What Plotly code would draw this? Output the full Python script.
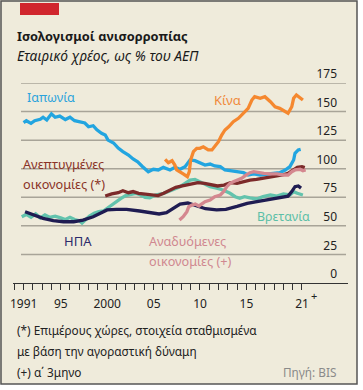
import plotly.graph_objects as go

# ---------------- data ----------------
japan_t = [1991.2, 1991.5, 1992.0, 1992.4, 1993.0, 1993.3, 1993.7, 1994.2, 1994.6, 1995.1, 1995.7,
           1996.2, 1996.7, 1997.3, 1997.8, 1998.2, 1998.7, 1999.1, 1999.6, 2000.0, 2000.3, 2000.9,
           2001.4, 2001.9, 2002.5, 2003.0, 2003.5, 2004.0, 2004.3, 2004.64, 2005.18, 2005.72,
           2006.26, 2006.98, 2007.52, 2008.06, 2008.6, 2009.14, 2009.67, 2010.2, 2010.75, 2011.3,
           2011.8, 2012.4, 2012.9, 2013.45, 2014.2, 2014.9, 2015.4, 2016.0, 2016.7, 2017.4, 2018.1,
           2018.8, 2019.4, 2019.9, 2020.3, 2020.45, 2020.8, 2021.06]
japan_v = [140.3, 142, 139.7, 142, 143.2, 145, 142.6, 148, 145, 146, 143,
           145, 142, 141, 140, 136.7, 137.6, 134, 131, 129.5, 125, 122.5,
           118, 115, 112, 108.5, 106, 102, 100, 97.4, 99.5, 98.9,
           101.2, 98.9, 101.2, 99.5, 101.8, 107.6, 107, 105.3, 103.2, 104.1,
           102.4, 101.8, 98.9, 98.3, 97.4, 96.5, 94.5, 95.4, 94.5, 95.4, 96,
           96.5, 98.9, 101.8, 107.6, 113.5, 116.4, 117]

china_t = [2006.45, 2006.8, 2007.2, 2007.5, 2007.7, 2008.06, 2008.4, 2008.85, 2009.06, 2009.2,
           2009.5, 2009.86, 2010.2, 2010.57, 2011.1, 2011.5, 2011.8, 2012.2, 2012.55, 2012.9,
           2013.3, 2013.8, 2014.35, 2014.9, 2015.4, 2015.8, 2016.1, 2016.7, 2017.2, 2017.8,
           2018.3, 2018.8, 2019.4, 2019.7, 2020.1, 2020.3, 2020.6, 2021.0, 2021.3]
china_v = [108.2, 105.3, 107, 103.2, 99, 97.4, 95.4, 93, 97.4, 107.6,
           114.9, 117.8, 117.8, 119.2, 116.4, 116.4, 119.2, 123.6, 129.5, 133.9,
           136.7, 141.1, 144.1, 148.5, 152.8, 160.1, 163, 161.6, 163, 158.6,
           154.2, 152.8, 149.9, 148.5, 154.2, 161.6, 164.5, 161.6, 160.1]

adv_t = [2000.0, 2000.7, 2001.4, 2001.9, 2002.5, 2003.0, 2003.6, 2004.3, 2005.0, 2005.7, 2006.3,
         2006.9, 2007.6, 2008.3, 2009.0, 2009.5, 2010.0, 2010.7, 2011.4, 2012.1, 2012.8, 2013.5,
         2014.2, 2014.9, 2015.6, 2016.3, 2017.0, 2017.7, 2018.4, 2019.1, 2019.7, 2020.2, 2020.7,
         2021.2, 2021.5]
adv_v = [76.1, 78, 79, 80.8, 79, 80, 78.5, 78, 77, 76.5, 78.5,
         81, 83.7, 84.9, 86, 87.2, 87.8, 87.2, 85.7, 84.9, 85.7, 87.8,
         87.2, 88.6, 90.1, 90.7, 91.6, 92.5, 93, 94.5, 96, 98.9, 101.2,
         101.8, 101]

us_t = [1991.36, 1992.25, 1993.3, 1994.4, 1995.5, 1996.6, 1997.6, 1998.7, 1999.4, 2000.2, 2001.2,
        2002.3, 2003.7, 2004.8, 2005.8, 2006.6, 2007.3, 2008.06, 2008.9, 2009.8, 2010.8, 2012.0,
        2013.0, 2014.2, 2015.3, 2016.5, 2017.7, 2018.8, 2019.7, 2020.1, 2020.45, 2020.8, 2021.1]
us_v = [62.4, 59.5, 56.6, 54.5, 53.6, 53.6, 55.1, 58, 61, 63.9, 64.5,
        64.5, 63, 61.5, 60.4, 61.5, 65, 69.1, 70, 67.5, 65, 64,
        64.5, 67, 69.7, 71.5, 73, 75, 76, 80, 84.3, 84.9, 83]

uk_t = [1991.0, 1991.5, 1992.0, 1992.5, 1993.0, 1993.5, 1994.0, 1994.6, 1995.2, 1995.7, 1996.2,
        1996.7, 1997.2, 1997.5, 1997.9, 1998.3, 1998.8, 1999.3, 1999.8, 2000.2, 2000.7, 2001.2,
        2001.7, 2002.2, 2002.8, 2003.3, 2003.8, 2004.3, 2004.8, 2005.4, 2006.3, 2007.3, 2008.06,
        2008.6, 2009.14, 2009.67, 2010.2, 2010.75, 2011.3, 2012.0, 2012.7, 2013.45, 2014.0,
        2014.5, 2015.0, 2015.6, 2016.3, 2017.0, 2017.8, 2018.5, 2019.2, 2019.9, 2020.3, 2020.7,
        2021.3]
uk_v = [58, 60, 57.5, 60.5, 57, 59.5, 57.5, 58.5, 57, 55.5, 57.5,
        55.5, 54.5, 52.5, 55.5, 58.5, 61, 62.4, 63, 65.4, 68.5, 71.5,
        74, 76.5, 77.5, 78.5, 77, 75, 74.5, 77, 78.5, 81.4, 84.3,
        87.2, 90.1, 90.7, 88.6, 85.7, 84.3, 82.9, 81.4, 78.5, 75.5,
        74.1, 75.5, 74.5, 73.5, 75.5, 77, 76.1, 77.9, 77, 79.9, 78.5,
        77]

em_t = [2008.0, 2008.4, 2008.8, 2009.0, 2009.35, 2009.7, 2010.1, 2010.4, 2010.75, 2011.3, 2011.8,
        2012.4, 2012.75, 2013.1, 2013.45, 2013.8, 2014.2, 2014.7, 2015.2, 2015.6, 2016.0, 2016.5,
        2017.1, 2017.8, 2018.5, 2019.2, 2019.7, 2020.1, 2020.45, 2021.0, 2021.3, 2021.6]
em_v = [55.1, 58, 62.4, 66.8, 68.2, 69.1, 67.4, 69.1, 71.1, 72.6, 75.5,
        77, 79.9, 84.3, 87.2, 88.6, 90.1, 91.6, 94.5, 96.5, 97.4, 96.5,
        96, 95.4, 95.4, 94.5, 94.5, 97.4, 98.9, 99.5, 98.3, 98.9]

y_ticks = [0, 25, 50, 75, 100, 125, 150, 175]
x_tickvals = [1991, 1995, 2000, 2005, 2010, 2015, 2021]
x_ticktext = ["1991", "95", "2000", "05", "10", "15", "21"]
x_minor_ticks = [1990.2 + k for k in range(32)]

# ---------------- styles ----------------
FONT = "Noto Sans"
BG = "#efebdb"
GRID = "#a8a498"
C_JP = "#22a5e0"
C_CN = "#f5882f"
C_ADV = "#7c2a2a"
C_US = "#1f1c52"
C_UK = "#62c3ad"
C_EM = "#d4878f"

fig = go.Figure()
series = [
    (uk_t, uk_v, C_UK),
    (us_t, us_v, C_US),
    (japan_t, japan_v, C_JP),
    (adv_t, adv_v, C_ADV),
    (em_t, em_v, C_EM),
    (china_t, china_v, C_CN),
]
for t, v, c in series:
    fig.add_trace(go.Scatter(x=t, y=v, mode="lines", line=dict(color=c, width=3.3),
                             hoverinfo="skip", showlegend=False))

W, H = 363, 390
L, R, T, B = 13, 15, 83, 107
x_range = [1990.06, 2026.16]

def px2x(p):
    return (p - L) / (W - L - R)

def py2y(p):
    return (H - B - p) / (H - T - B)

shapes = []
# horizontal gridlines (drawn between grid layer and traces)
for yv in y_ticks[1:]:
    shapes.append(dict(type="line", xref="paper", yref="y", layer="between",
                       x0=px2x(21), x1=px2x(346), y0=yv, y1=yv,
                       line=dict(color=GRID, width=1.5)))
# white margin outside the frame
shapes.append(dict(type="rect", xref="paper", yref="paper", layer="above",
                   x0=px2x(357), x1=px2x(370), y0=py2y(400), y1=py2y(-5),
                   fillcolor="#ffffff", line=dict(width=0)))
shapes.append(dict(type="rect", xref="paper", yref="paper", layer="above",
                   x0=px2x(-5), x1=px2x(370), y0=py2y(400), y1=py2y(384),
                   fillcolor="#ffffff", line=dict(width=0)))
# frame
shapes.append(dict(type="rect", xref="paper", yref="paper", layer="above",
                   x0=px2x(1), x1=px2x(357), y0=py2y(384), y1=py2y(1),
                   fillcolor="rgba(0,0,0,0)", line=dict(color="#555555", width=1.5)))
# red tag
shapes.append(dict(type="rect", xref="paper", yref="paper", layer="above",
                   x0=px2x(20), x1=px2x(59), y0=py2y(15), y1=py2y(3),
                   fillcolor="#d0262d", line=dict(width=0)))

ann = []
def label(text, x, y, color, size=13, anchor="left"):
    ann.append(dict(text=text, x=px2x(x), y=py2y(y), xref="paper", yref="paper",
                    xanchor=anchor, yanchor="middle", showarrow=False,
                    font=dict(family=FONT, size=size, color=color)))

label("Ιαπωνία", 25, 98, "#2aa3dc", size=12.5)
label("Κίνα", 212, 100, "#f08a3c")
label("Ανεπτυγμένες", 21, 164, "#8a3327", size=12.7)
label("οικονομίες (*)", 21, 184, "#8a3327", size=12.7)
label("ΗΠΑ", 62, 241, "#2d2b6b")
label("Αναδυόμενες", 147, 241, "#d08890", size=12.7)
label("οικονομίες (+)", 147, 261, "#d08890", size=12.7)
label("Βρετανία", 255, 216, "#5bbfa7", size=12.4)
label("+", 309, 295, "#222222", size=11)

# titles
label("<b>Ισολογισμοί ανισορροπίας</b>", 15, 36, "#1a1a1a", size=12.8)
label("<i>Εταιρικό χρέος, ως % του ΑΕΠ</i>", 15, 55, "#1a1a1a", size=13.8)
# footnotes
label("(*) Επιμέρους χώρες, στοιχεία σταθμισμένα", 15, 330, "#222222", size=11.8)
label("με βάση την αγοραστική δύναμη", 15, 351, "#222222", size=11.8)
label("(+) α΄ 3μηνο", 15, 372, "#222222", size=11.8)
label("Πηγή: BIS", 338, 372, "#8a8a8a", size=11.8, anchor="right")

fig.update_layout(
    width=W, height=H,
    margin=dict(l=L, r=R, t=T, b=B, pad=0, autoexpand=False),
    paper_bgcolor=BG,
    plot_bgcolor=BG,
    shapes=shapes,
    annotations=ann,
    showlegend=False,
    xaxis=dict(range=x_range, showgrid=False, zeroline=False,
               showline=True, linecolor="#333333", linewidth=1,
               tickmode="array", tickvals=x_tickvals, ticktext=x_ticktext,
               ticks="", ticklabelstandoff=10, ticklabelshift=2, automargin=False,
               tickfont=dict(family=FONT, size=12, color="#222222"),
               minor=dict(tickmode="array", tickvals=x_minor_ticks, ticks="outside",
                          ticklen=6, tickwidth=1, tickcolor="#333333", showgrid=False),
               fixedrange=True),
    yaxis=dict(range=[0, 175], showgrid=False,
               zeroline=False, showline=False,
               side="right", tickmode="array", tickvals=y_ticks, automargin=False,
               ticks="", ticklabelposition="inside", ticklabelshift=-9, ticklabelstandoff=8,
               ticklabeloverflow="allow",
               tickfont=dict(family=FONT, size=12, color="#222222"),
               fixedrange=True),
)

fig.write_html("out.html", config={"displayModeBar": False},
               post_script="document.body.style.margin='0';document.body.style.overflow='hidden';")
